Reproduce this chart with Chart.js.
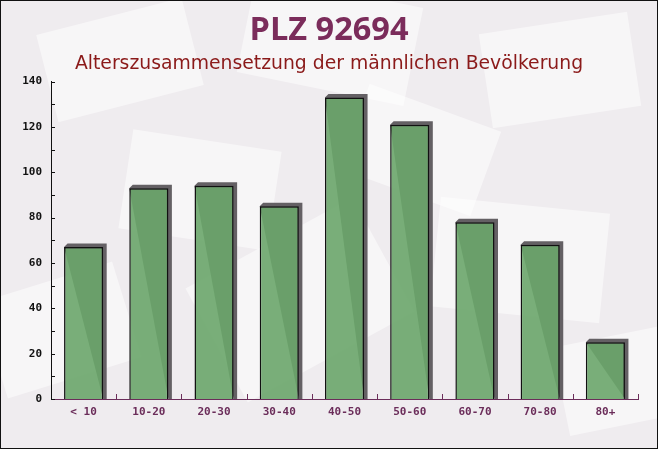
<!DOCTYPE html>
<html>
<head>
<meta charset="utf-8">
<script src="https://cdn.jsdelivr.net/npm/chart.js@4/dist/chart.umd.min.js"></script>
<style>
html,body{margin:0;padding:0;background:#f0edf0;}
#wrap{width:658px;height:449px;position:relative;}
</style>
</head>
<body>
<div id="wrap"><canvas id="c" width="658" height="449"></canvas></div>
<script>
const categories = ["< 10", "10-20", "20-30", "30-40", "40-50", "50-60", "60-70", "70-80", "80+"];
const maleValues = [67, 93, 94, 85, 133, 121, 78, 68, 25];
const yTickValues = [0, 20, 40, 60, 80, 100, 120, 140];
const titleText = "PLZ 92694";
const subtitleText = "Alterszusammensetzung der männlichen Bevölkerung";

const bgPlugin = {
  id: 'bg',
  beforeDraw(chart) {
    const ctx = chart.ctx;
    const W = chart.width, H = chart.height;
    ctx.save();
    ctx.fillStyle = '#efecef';
    ctx.fillRect(0, 0, W, H);
    const shapes = [
      [120, 60, 150, 90, -0.25], [330, 40, 170, 100, 0.2], [560, 70, 150, 95, -0.15],
      [60, 330, 140, 100, -0.3], [300, 300, 190, 130, -0.5], [520, 260, 170, 110, 0.1],
      [200, 190, 150, 100, 0.15], [620, 380, 120, 90, -0.2], [420, 150, 140, 90, 0.35]
    ];
    ctx.fillStyle = 'rgba(255,255,255,0.5)';
    for (const s of shapes) {
      ctx.save();
      ctx.translate(s[0], s[1]);
      ctx.rotate(s[4]);
      ctx.fillRect(-s[2]/2, -s[3]/2, s[2], s[3]);
      ctx.restore();
    }
    ctx.restore();
  },
  afterDraw(chart) {
    const ctx = chart.ctx;
    ctx.save();
    ctx.strokeStyle = '#111';
    ctx.lineWidth = 1;
    ctx.strokeRect(0.5, 0.5, chart.width - 1, chart.height - 1);
    ctx.restore();
  }
};

const shadowPlugin = {
  id: 'shadow3d',
  beforeDatasetsDraw(chart) {
    const ctx = chart.ctx;
    const meta = chart.getDatasetMeta(0);
    const d = 3.5;
    ctx.save();
    ctx.fillStyle = '#646064';
    meta.data.forEach(bar => {
      const p = bar.getProps(['x', 'y', 'base', 'width'], true);
      const l = p.x - p.width / 2, r = p.x + p.width / 2;
      ctx.beginPath();
      ctx.moveTo(l, p.y);
      ctx.lineTo(l + d, p.y - d);
      ctx.lineTo(r + d, p.y - d);
      ctx.lineTo(r + d, p.base);
      ctx.lineTo(r, p.base);
      ctx.closePath();
      ctx.fill();
    });
    ctx.restore();
  }
};

const ticksPlugin = {
  id: 'innerTicks',
  afterDatasetsDraw(chart) {
    const ctx = chart.ctx;
    const y = chart.scales.y, x = chart.scales.x;
    ctx.save();
    ctx.lineWidth = 1;
    ctx.strokeStyle = '#111';
    for (let v = 0; v <= 140; v += 10) {
      const py = Math.round(y.getPixelForValue(v)) + 0.5;
      ctx.beginPath();
      ctx.moveTo(x.left, py);
      ctx.lineTo(x.left + 4, py);
      ctx.stroke();
    }
    ctx.strokeStyle = '#6b2d5a';
    const step = x.getPixelForValue(1) - x.getPixelForValue(0);
    for (let i = 1; i <= categories.length; i++) {
      const px = Math.round(x.getPixelForValue(i) - step / 2) + 0.5;
      ctx.beginPath();
      ctx.moveTo(px, y.bottom);
      ctx.lineTo(px, y.bottom - 5);
      ctx.stroke();
    }
    ctx.restore();
  }
};

new Chart(document.getElementById('c'), {
  type: 'bar',
  data: {
    labels: categories,
    datasets: [{
      data: maleValues,
      backgroundColor: 'rgba(106,166,106,0.9)',
      borderColor: '#111',
      borderWidth: 1.5,
      borderSkipped: 'bottom',
      categoryPercentage: 1.0,
      barPercentage: 0.6
    }]
  },
  options: {
    responsive: false,
    animation: false,
    devicePixelRatio: 1,
    layout: { padding: { left: 20, right: 20, top: 5, bottom: 0 } },
    plugins: {
      legend: { display: false },
      tooltip: { enabled: false },
      title: {
        display: true,
        text: titleText,
        color: '#7b2c5b',
        font: { family: '"Open Sans", sans-serif', size: 32.5, weight: 'bold' },
        padding: { top: 6, bottom: 0 }
      },
      subtitle: {
        display: true,
        text: subtitleText,
        color: '#8b1a1a',
        font: { family: '"DejaVu Sans", sans-serif', size: 18.8, weight: 'normal' },
        padding: { top: 3, bottom: 6 }
      }
    },
    scales: {
      x: {
        grid: { display: false, drawTicks: false },
        border: { display: true, color: '#6b2d5a', width: 1 },
        ticks: {
          color: '#6b2d5a',
          font: { family: '"DejaVu Sans Mono", monospace', size: 11, weight: 'bold' },
          padding: 7,
          maxRotation: 0
        },
        afterFit(s) { s.height = 50; }
      },
      y: {
        min: 0,
        max: 140,
        grid: { display: false, drawTicks: false },
        border: { display: true, color: '#111', width: 1 },
        afterBuildTicks(s) { s.ticks = yTickValues.map(v => ({ value: v })); },
        ticks: {
          color: '#111',
          font: { family: '"DejaVu Sans Mono", monospace', size: 11, weight: 'bold' },
          padding: 9
        },
        afterFit(s) { s.width = 31; }
      }
    }
  },
  plugins: [bgPlugin, shadowPlugin, ticksPlugin]
});
</script>
</body>
</html>
